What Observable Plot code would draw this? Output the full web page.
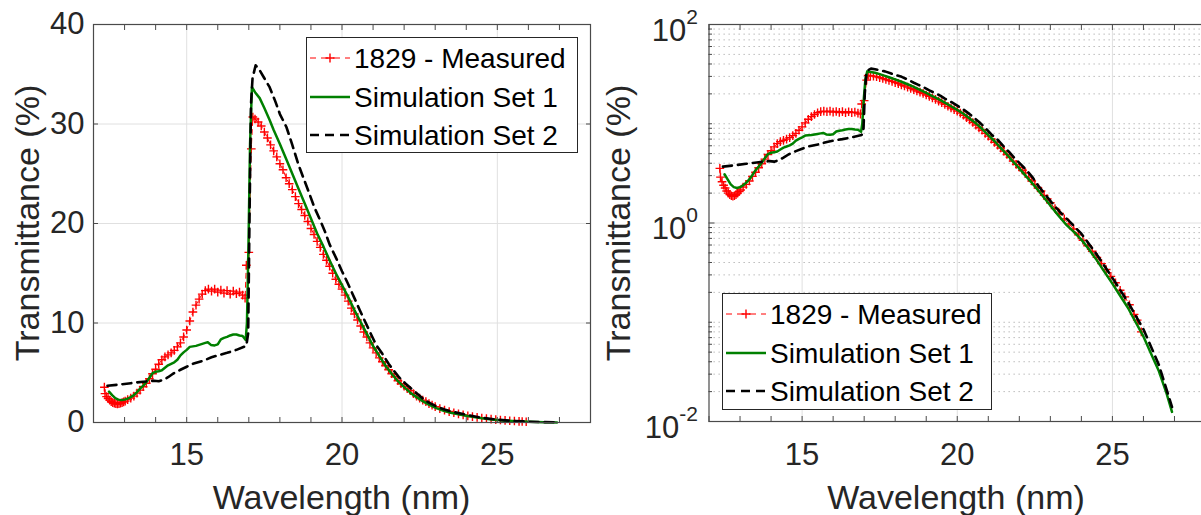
<!DOCTYPE html>
<html><head><meta charset="utf-8">
<script src="https://cdn.jsdelivr.net/npm/d3@7"></script>
<script src="https://cdn.jsdelivr.net/npm/@observablehq/plot@0.6"></script>
<style>
html,body{margin:0;padding:0;background:#fff;overflow:hidden;}
#root{position:relative;width:1201px;height:515px;overflow:hidden;font-family:"Liberation Sans",Arial,sans-serif;color:#262626;background:#fff;}
.panel{position:absolute;top:0;}
.title{position:absolute;font-size:34px;white-space:nowrap;line-height:1;transform:translate(-50%,-50%);}
.ytitle{transform:translate(-50%,-50%) rotate(-90deg);}
.legend{position:absolute;overflow:visible;}
</style></head><body><div id="root"></div>
<script>
// ---------- data ----------
const measuredX = [12.35,12.37,12.42,12.47,12.52,12.57,12.62,12.67,12.72,12.77,12.82,12.87,12.92,12.97,13.02,13.1,13.2,13.3,13.4,13.5,13.6,13.7,13.8,13.9,14.0,14.1,14.2,14.3,14.4,14.5,14.6,14.7,14.8,14.9,15.0,15.1,15.2,15.3,15.4,15.5,15.6,15.7,15.8,15.9,16.0,16.1,16.2,16.3,16.4,16.5,16.6,16.7,16.8,16.88,16.92,17.0,17.08,17.13,17.2,17.3,17.4,17.5,17.6,17.7,17.8,17.9,18.0,18.1,18.2,18.3,18.4,18.5,18.6,18.7,18.8,18.9,19.0,19.1,19.2,19.3,19.4,19.5,19.6,19.7,19.8,19.9,20.0,20.1,20.2,20.3,20.4,20.5,20.6,20.7,20.8,20.9,21.0,21.1,21.2,21.3,21.4,21.5,21.6,21.7,21.8,21.9,22.0,22.1,22.2,22.3,22.4,22.5,22.6,22.7,22.8,22.9,23.0,23.15,23.3,23.45,23.6,23.75,23.9,24.05,24.2,24.35,24.5,24.65,24.8,24.95,25.1,25.25,25.4,25.55,25.7,25.8,25.93];
const measuredY = [3.55,2.9,2.6,2.4,2.25,2.1,2.0,1.93,1.88,1.86,1.88,1.93,2.0,2.07,2.15,2.3,2.45,2.65,2.95,3.25,3.6,3.95,4.4,4.9,5.35,5.85,6.3,6.6,6.8,7.0,7.25,7.6,8.0,8.6,9.3,10.2,11.1,11.8,12.4,12.9,13.25,13.4,13.2,13.4,13.1,13.3,13.0,13.25,12.9,13.2,12.95,13.1,12.8,12.5,15.8,17.1,27.5,30.7,30.5,30.2,29.8,29.2,28.6,27.9,27.3,26.7,26.0,25.4,24.6,24.0,23.4,22.7,22.0,21.4,20.8,20.2,19.5,18.9,18.2,17.6,16.9,16.3,15.7,15.0,14.4,13.9,13.4,12.8,12.2,11.5,10.9,10.3,9.7,9.1,8.6,8.0,7.5,7.0,6.5,6.1,5.7,5.3,4.9,4.6,4.2,3.9,3.65,3.4,3.2,2.9,2.65,2.45,2.25,2.1,1.9,1.75,1.6,1.4,1.25,1.1,0.98,0.87,0.76,0.67,0.59,0.52,0.45,0.39,0.34,0.29,0.25,0.21,0.18,0.15,0.12,0.105,0.08];

const set1X = [12.5,12.6,12.7,12.8,12.9,13.0,13.1,13.2,13.3,13.4,13.5,13.6,13.7,13.8,13.9,14.0,14.1,14.2,14.3,14.4,14.5,14.6,14.7,14.8,14.9,15.0,15.1,15.2,15.3,15.4,15.5,15.6,15.68,15.78,15.9,16.0,16.1,16.2,16.3,16.4,16.5,16.6,16.7,16.8,16.9,16.94,16.99,17.04,17.1,17.2,17.35,17.5,17.67,17.8,18.0,18.2,18.4,18.6,18.8,19.0,19.2,19.4,19.6,19.8,20.0,20.2,20.4,20.6,20.8,21.0,21.2,21.4,21.6,21.8,22.0,22.2,22.4,22.6,22.8,23.0,23.25,23.5,23.75,24.0,24.25,24.5,24.75,25.0,25.25,25.5,25.75,26.0,26.25,26.5,26.75,26.92];
const set1Y = [3.1,2.75,2.45,2.3,2.25,2.3,2.4,2.55,2.75,3.05,3.4,3.7,4.05,4.5,4.95,5.1,5.15,5.25,5.5,5.75,5.9,6.05,6.3,6.75,7.05,7.3,7.6,7.65,7.7,7.8,7.9,8.0,8.07,7.8,7.75,7.85,8.35,8.5,8.6,8.75,8.85,8.85,8.75,8.7,8.3,10,18,28,33.7,33.2,32.6,31.6,30.4,29.4,28.0,26.5,25.0,23.5,22.0,20.5,19.0,17.7,16.3,15.0,13.8,12.6,11.3,10.1,8.9,7.7,6.7,5.7,4.9,4.15,3.55,3.0,2.55,2.15,1.8,1.5,1.2,0.97,0.82,0.68,0.54,0.42,0.32,0.245,0.185,0.14,0.1,0.072,0.048,0.032,0.019,0.0125];

const set2X = [12.45,12.8,13.2,13.6,13.95,14.1,14.25,14.4,14.56,14.8,15.0,15.2,15.52,15.8,16.0,16.3,16.6,16.92,16.98,17.02,17.07,17.12,17.22,17.35,17.5,17.67,17.85,18.0,18.21,18.4,18.6,18.75,18.95,19.1,19.3,19.45,19.6,19.83,20.0,20.2,20.4,20.57,20.75,20.93,21.1,21.3,21.5,21.67,21.85,22.05,22.25,22.42,22.6,22.8,23.05,23.3,23.6,24.0,24.5,25.0,25.5,26.0,26.5,26.92];
const set2Y = [3.7,3.8,3.95,4.1,4.2,4.15,4.3,4.55,4.9,5.3,5.6,5.9,6.2,6.55,6.75,7.0,7.3,7.7,9,20,32,34.6,35.9,35.4,34.6,33.7,32.3,31.0,29.7,27.9,25.9,24.65,23.0,21.7,20.3,19.2,17.9,16.4,15.2,13.9,12.5,11.3,10.1,8.9,7.8,6.9,5.9,5.2,4.5,3.9,3.35,2.9,2.4,2.0,1.6,1.3,1.05,0.78,0.48,0.28,0.16,0.085,0.037,0.014];

const seriesNames = ["1829 - Measured", "Simulation Set 1", "Simulation Set 2"];
const xMajorTicks = [15, 20, 25];
const xMinorTicks = [12,13,14,15,16,17,18,19,20,21,22,23,24,25,26,27,28];
const linYTicks = [0, 10, 20, 30, 40];
const logYTicks = [0.01, 1, 100];
const logMinorTicks = [0.02,0.03,0.04,0.05,0.06,0.07,0.08,0.09,0.1,0.2,0.3,0.4,0.5,0.6,0.7,0.8,0.9,2,3,4,5,6,7,8,9,10,20,30,40,50,60,70,80,90];
const xTitle = "Wavelength (nm)";
const yTitle = "Transmittance (%)";

// ---------- tables ----------
const measured = measuredX.map((x, i) => ({x, y: measuredY[i]}));
const set1 = set1X.map((x, i) => ({x, y: set1Y[i]}));
const set2 = set2X.map((x, i) => ({x, y: set2Y[i]}));

const RED = "#ff0000", GREEN = "#008000", BLACK = "#000000";
const AX = "#4a4a4a", TXT = "#262626";
const FONT = "'Liberation Sans', Arial, sans-serif";

function dataMarks() {
  return [
    Plot.line(measured, {x: "x", y: "y", stroke: RED, strokeWidth: 1, strokeDasharray: "5,4"}),
    Plot.dot(measured, {x: "x", y: "y", symbol: "plus", stroke: RED, r: 2.9, strokeWidth: 1.4}),
    Plot.line(set1, {x: "x", y: "y", stroke: GREEN, strokeWidth: 2.5}),
    Plot.line(set2, {x: "x", y: "y", stroke: BLACK, strokeWidth: 2.6, strokeDasharray: "9,6"})
  ];
}

const root = document.getElementById("root");

// ---------- left (linear) panel ----------
const left = Plot.plot({
  width: 600, height: 515,
  marginLeft: 93, marginRight: 10, marginTop: 24, marginBottom: 93,
  style: {fontFamily: FONT, color: TXT, background: "transparent", overflow: "visible"},
  x: {domain: [12, 28], label: null},
  y: {domain: [0, 40], label: null},
  marks: [
    Plot.gridX({ticks: xMajorTicks, stroke: "#e0e0e0", strokeOpacity: 1}),
    Plot.gridY({ticks: [10, 20, 30], stroke: "#e0e0e0", strokeOpacity: 1}),
    ...dataMarks(),
    Plot.frame({stroke: AX, strokeWidth: 1.2}),
    Plot.axisX({anchor: "bottom", ticks: xMinorTicks, tickSize: -5, tickFormat: () => "", stroke: AX, label: null}),
    Plot.axisX({anchor: "top", ticks: xMinorTicks, tickSize: -5, tickFormat: () => "", stroke: AX, label: null}),
    Plot.axisY({anchor: "left", ticks: linYTicks, tickSize: -5, tickFormat: () => "", stroke: AX, label: null}),
    Plot.axisY({anchor: "right", ticks: linYTicks, tickSize: -5, tickFormat: () => "", stroke: AX, label: null}),
    Plot.axisX({anchor: "bottom", ticks: xMajorTicks, tickSize: 0, tickPadding: 20, fontSize: 31, label: null}),
    Plot.axisY({anchor: "left", ticks: linYTicks, tickSize: 0, tickPadding: 9, fontSize: 31, label: null})
  ]
});
left.classList.add("panel");
left.style.left = "0px";
root.appendChild(left);

// ---------- right (log) panel ----------
const right = Plot.plot({
  width: 605, height: 515,
  marginLeft: 108.5, marginRight: 0, marginTop: 24, marginBottom: 94,
  style: {fontFamily: FONT, color: TXT, background: "transparent", overflow: "visible"},
  x: {domain: [12, 28], label: null},
  y: {type: "log", domain: [0.01, 100], label: null},
  marks: [
    Plot.gridY({ticks: logMinorTicks, stroke: "#b0b0b0", strokeOpacity: 1, strokeDasharray: "1.3,3.7"}),
    Plot.gridX({ticks: xMajorTicks, stroke: "#e0e0e0", strokeOpacity: 1}),
    Plot.gridY({ticks: [1], stroke: "#e0e0e0", strokeOpacity: 1}),
    ...dataMarks(),
    Plot.frame({stroke: AX, strokeWidth: 1.2}),
    Plot.axisX({anchor: "bottom", ticks: xMinorTicks, tickSize: -5, tickFormat: () => "", stroke: AX, label: null}),
    Plot.axisX({anchor: "top", ticks: xMinorTicks, tickSize: -5, tickFormat: () => "", stroke: AX, label: null}),
    Plot.axisY({anchor: "left", ticks: logMinorTicks, tickSize: -3.5, tickFormat: () => "", stroke: AX, label: null}),
    Plot.axisY({anchor: "left", ticks: logYTicks, tickSize: -6, tickFormat: () => "", stroke: AX, label: null}),
    Plot.axisX({anchor: "bottom", ticks: xMajorTicks, tickSize: 0, tickPadding: 21, fontSize: 31, label: null}),
    Plot.axisY({anchor: "left", ticks: logYTicks, tickSize: 0, tickPadding: 11, fontSize: 31, dy: 6.5, label: null,
      tickFormat: d => "10^" + Math.round(Math.log10(d))})
  ]
});
right.classList.add("panel");
right.style.left = "600px";
root.appendChild(right);

// superscript exponents on the log axis labels
right.querySelectorAll('g[aria-label="y-axis tick label"] text').forEach(t => {
  const s = t.textContent;
  if (!s.includes("^")) return;
  const [base, exp] = s.split("^");
  while (t.firstChild) t.removeChild(t.firstChild);
  const ns = "http://www.w3.org/2000/svg";
  const b = document.createElementNS(ns, "tspan"); b.textContent = base; t.appendChild(b);
  const e = document.createElementNS(ns, "tspan"); e.textContent = exp;
  e.setAttribute("dy", "-17"); e.setAttribute("font-size", "21"); t.appendChild(e);
});

// ---------- titles ----------
function addTitle(text, x, y, rotate) {
  const d = document.createElement("div");
  d.className = "title" + (rotate ? " ytitle" : "");
  d.textContent = text;
  d.style.left = x + "px"; d.style.top = y + "px";
  root.appendChild(d);
}
addTitle(xTitle, 341.5, 497);
addTitle(xTitle, 956, 497);
addTitle(yTitle, 27, 223, true);
addTitle(yTitle, 618, 223, true);

// ---------- legends ----------
function addLegend(x, y, w, h) {
  const svg = d3.create("svg").attr("class", "legend").attr("width", w).attr("height", h)
    .style("left", x + "px").style("top", y + "px");
  svg.append("rect").attr("x", 0.5).attr("y", 0.5).attr("width", w - 1).attr("height", h - 1)
    .attr("fill", "#fff").attr("stroke", "#262626").attr("stroke-width", 1);
  const rows = [21, 60, 98];
  const styles = [
    {stroke: RED, width: 1, dash: "7,5", marker: true},
    {stroke: GREEN, width: 2.5, dash: null},
    {stroke: BLACK, width: 2.6, dash: "9,6"}
  ];
  seriesNames.forEach((name, i) => {
    const cy = rows[i], s = styles[i];
    const ln = svg.append("line").attr("x1", 4).attr("x2", 44).attr("y1", cy).attr("y2", cy)
      .attr("stroke", s.stroke).attr("stroke-width", s.width);
    if (s.dash) ln.attr("stroke-dasharray", s.dash).attr("stroke-dashoffset", i === 0 ? 1 : 0);
    if (s.marker) svg.append("path").attr("d", `M${24 - 4.5},${cy}H${24 + 4.5}M24,${cy - 4.5}V${cy + 4.5}`)
      .attr("stroke", RED).attr("stroke-width", 1.4).attr("fill", "none");
    svg.append("text").attr("x", 48).attr("y", cy + 10).attr("font-size", 28)
      .attr("font-family", FONT).attr("fill", "#000").text(name);
  });
  root.appendChild(svg.node());
}
addLegend(306, 37, 272, 116);
addLegend(722, 293, 270, 117);
</script></body></html>
